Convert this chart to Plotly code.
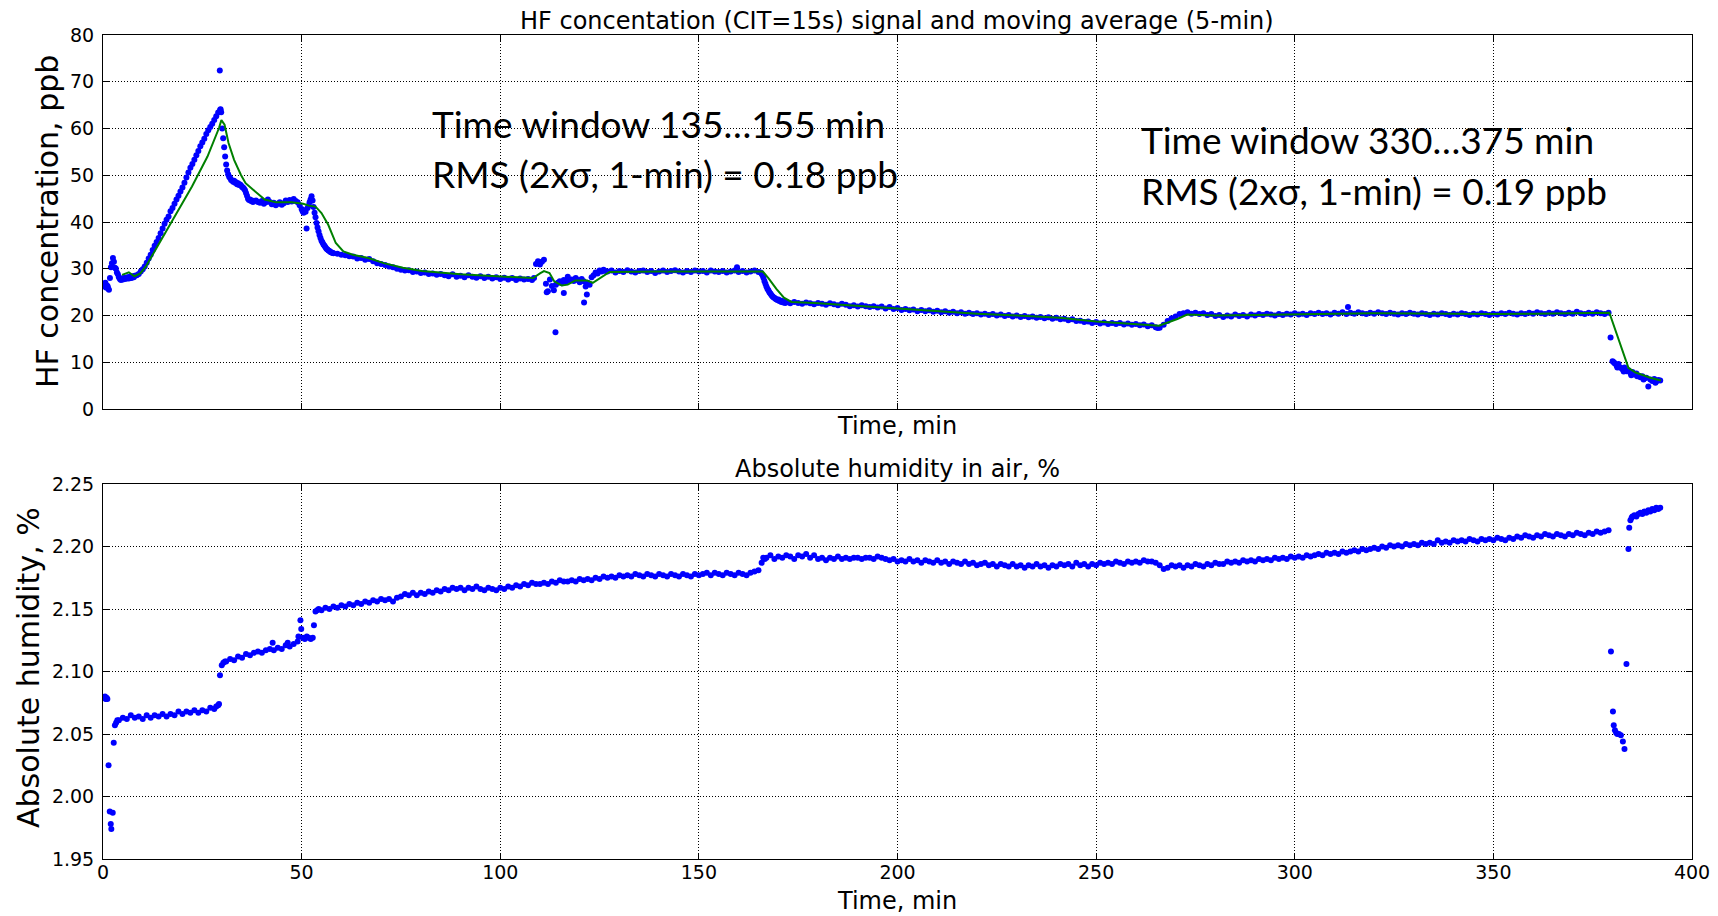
import plotly.graph_objects as go

# ---------------- data ----------------
# HF concentration signal (ppb); each segment: start time (min), sampling step (min), values
hf_seg1 = [26.8, 26.3, 26.5, 26.0, 26.4, 25.8, 25.5, 28.0, 30.3, 31.2, 32.3, 31.5, 30.2, 30.0, 29.2, 28.8,
           28.2, 27.8, 27.6, 27.9, 27.7, 28.0, 27.8, 28.1, 27.9, 28.2, 27.9, 28.3, 28.0, 28.1, 28.4, 28.2, 28.5]
hf_seg2 = [28.6, 28.9, 29.4, 29.9, 30.5, 31.3, 32.2, 33.0, 34.0, 34.9, 35.7, 36.6, 37.6, 38.6, 39.6, 40.5,
           41.2, 42.3, 43.0, 43.9, 44.8, 45.6, 46.5, 47.4, 48.4, 49.5, 50.6, 51.6, 52.4, 53.3, 54.3, 55.2,
           56.2, 57.0, 57.8, 58.8, 59.6, 60.3, 61.0, 61.8, 62.6, 63.4, 64.0]
hf_seg3 = [63.5, 60.0, 57.9, 56.0, 54.0, 52.3, 51.0, 50.2, 49.7, 49.4, 49.0, 48.9, 48.6, 48.8, 48.4, 48.5,
           48.1, 48.3, 47.9, 48.0, 47.8, 47.5, 47.4, 47.1, 46.8, 46.2, 45.6, 45.0, 44.7, 44.8, 44.5, 44.6,
           44.3, 44.5]
hf_seg4 = [44.6, 44.3, 44.1, 44.5, 43.9, 44.2, 44.8, 44.3, 43.8, 44.1, 43.6, 43.9, 44.2, 43.7, 44.0, 44.6,
           44.3, 44.7, 44.4, 44.9, 44.5, 44.2, 43.6, 42.8]
hf_seg5 = [42.3, 42.0, 42.5, 42.2, 38.6, 43.0, 43.5, 44.2, 44.8, 45.5, 44.6, 43.2, 42.0, 41.0, 39.8, 38.8,
           38.0, 37.2, 36.6, 36.0, 35.6, 35.2, 34.9, 34.6, 34.3, 34.1, 33.9, 33.8, 33.6, 33.5, 33.4, 33.3]
hf_seg6 = [33.2, 33.0, 32.9, 32.7, 32.6, 32.2, 32.3, 31.9, 32.1, 31.6, 31.2, 31.0, 30.8, 30.5, 30.3, 30.0,
           29.8, 29.6, 29.7, 29.3, 29.4, 29.1, 29.2, 28.9, 29.0, 28.7, 28.9, 28.6, 28.4, 28.8, 28.3, 28.5,
           28.2, 28.6, 28.3, 28.1, 28.4, 28.0, 28.3, 27.9, 28.2, 27.8, 28.1, 27.7, 28.0, 27.6, 27.9, 27.7,
           27.8, 27.6]
hf_seg7 = [28.0, 31.0, 31.6, 30.9, 31.5, 31.9, 26.8, 25.2, 27.7, 26.3, 25.4, 26.6, 27.0, 27.3, 26.9, 27.6,
           27.2, 28.3, 27.5, 27.7, 27.4, 28.0, 27.6, 27.1, 27.8, 27.3, 26.2, 27.0, 26.6, 28.2, 28.6, 29.2,
           29.0, 29.6, 29.4, 29.8, 29.5]
hf_seg8 = [29.4, 29.6, 29.2, 29.5, 29.3, 29.7, 29.4, 29.2, 29.5, 29.6, 29.3, 29.5, 29.1, 29.4, 29.6, 29.3,
           29.5, 29.7, 29.4, 29.2, 29.5, 29.3, 29.6, 29.4, 29.5, 29.2, 29.6, 29.4, 29.3, 29.5, 29.2, 29.4,
           29.6, 29.3, 29.5, 29.2, 29.4, 29.6, 29.3]
hf_seg9 = [29.2, 29.0, 28.6, 28.1, 27.4, 26.8, 26.2, 25.7, 25.4, 25.0, 24.7, 24.4, 24.1, 23.9, 23.8, 23.6,
           23.5, 23.3, 23.4, 23.1, 23.2, 22.9, 23.1, 22.8, 22.9, 22.7, 22.9]
hf_seg10 = [22.6, 22.9, 22.7, 22.5, 22.8, 22.6, 22.4, 22.7, 22.5, 22.3, 22.6, 22.4, 22.2, 22.5, 22.3, 22.0,
            22.2, 21.9, 22.2, 22.0, 21.8, 22.0, 21.7, 21.9, 21.5, 21.8, 21.4, 21.6]
hf_seg11 = [21.2, 21.4, 21.1, 21.3, 20.9, 21.2, 20.9, 21.1, 20.8, 21.0, 20.7, 20.9, 20.6, 20.8, 20.5, 20.7,
            20.4, 20.6, 20.3, 20.5, 20.2, 20.4, 20.1, 20.3, 20.0, 20.2, 19.9, 20.1, 19.8, 20.0, 19.7, 19.9,
            19.6, 19.8, 19.5, 19.7, 19.4, 19.6, 19.3, 19.5, 19.2, 19.3, 19.0, 19.2, 18.8, 18.9, 18.6, 18.7,
            18.4, 18.6, 18.3, 18.5, 18.2, 18.4, 18.2, 18.4, 18.1, 18.3, 18.0, 18.2, 17.9, 18.1, 17.7, 17.9,
            17.5]
hf_seg12 = [17.4, 18.0, 18.8, 19.4, 19.8, 20.3, 20.5, 20.7, 20.4, 20.6, 20.3, 20.5, 20.1, 20.3, 19.9, 20.1,
            19.7, 20.0, 19.8, 20.2, 19.9, 20.1, 19.8, 20.2, 20.0, 20.3, 20.1, 20.4, 20.2, 20.0, 20.3, 20.1,
            20.4, 20.2, 20.5]
hf_seg13 = [20.2, 20.4, 20.1, 20.5, 20.3, 20.6, 20.3, 20.5, 20.2, 20.6, 20.4, 20.7, 20.3, 20.6, 20.4, 20.7,
            20.5, 20.3, 20.6, 20.4, 20.7, 20.5, 20.3, 20.6, 20.4, 20.2, 20.5, 20.3, 20.6, 20.4, 20.2, 20.5,
            20.3, 20.1, 20.4, 20.2, 20.5, 20.3, 20.1, 20.4]
hf_seg14 = [20.2, 20.5, 20.3, 20.1, 20.4, 20.2, 20.5, 20.3, 20.1, 20.4, 20.2, 20.5, 20.3, 20.6, 20.4, 20.2,
            20.5, 20.3, 20.6, 20.4, 20.7, 20.5, 20.3, 20.6, 20.4, 20.7, 20.5, 20.3, 20.6, 20.4, 20.8, 20.5,
            20.3, 20.6, 20.4, 20.7, 20.5, 20.3, 20.6]
hf_seg15 = [15.3, 10.2, 9.8, 9.3, 9.6, 8.8, 8.5, 8.9, 8.1, 8.3, 7.7, 7.9, 7.4, 7.6, 7.1, 6.8, 7.0, 6.5,
            6.7, 4.8, 6.3, 6.0, 6.4, 5.9, 6.2, 6.1]
hf_segments = [(0.0, 0.25, hf_seg1), (8.5, 0.5, hf_seg2), (29.75, 0.25, hf_seg3), (38.5, 0.5, hf_seg4),
               (50.25, 0.25, hf_seg5), (59.0, 1.0, hf_seg6), (108.5, 0.5, hf_seg7), (127.0, 1.0, hf_seg8),
               (165.5, 0.25, hf_seg9), (173.0, 1.0, hf_seg10), (201.0, 1.0, hf_seg11), (266.0, 1.0, hf_seg12),
               (301.0, 1.0, hf_seg13), (341.0, 1.0, hf_seg14), (379.5, 0.5, hf_seg15)]
hf_extra_t = [29.4, 29.6, 111.7, 113.9, 116.0, 121.1, 121.8, 159.6, 313.4, 380.3, 381.2, 382.8, 384.7,
              386.2, 387.8, 390.8, 0.6, 1.2, 265.5]
hf_extra_v = [72.4, 64.1, 25.0, 16.4, 24.8, 22.8, 24.5, 30.3, 21.8, 10.0, 8.9, 8.0, 7.2, 7.0, 6.3, 5.6,
              27.0, 26.2, 17.3]

# 5-min moving average (ppb)
ma_t = [4.8, 6.5, 7.9, 9.4, 10.8, 14.7, 18.5, 22.4, 26.3, 29.2, 29.8, 30.6, 31.6, 33.0, 34.7, 35.9, 37.8,
        40.7, 43.6, 47.5, 50.4, 51.8, 53.5, 55.0, 56.7, 58.6, 60.5, 62.9, 66.8, 70.7, 75.5, 80.3, 90.0,
        99.6, 108.3, 110.0, 111.0, 112.4, 113.6, 115.5, 117.0, 118.9, 121.8, 123.3, 125.1, 127.5, 140.0,
        150.0, 160.0, 166.1, 167.5, 169.5, 171.4, 173.3, 179.1, 190.0, 200.0, 210.0, 220.0, 230.0, 240.8,
        250.0, 260.0, 265.8, 267.7, 270.6, 272.9, 277.4, 280.0, 290.0, 300.0, 310.0, 320.0, 330.0, 340.0,
        350.0, 360.0, 370.0, 379.2, 384.0, 385.8, 389.5, 392.2]
ma_v = [28.7, 29.25, 28.4, 29.0, 30.5, 36.2, 41.9, 47.6, 54.0, 60.1, 61.8, 60.8, 56.9, 53.3, 50.1, 48.3, 46.9,
        44.8, 44.2, 44.2, 43.9, 43.5, 43.3, 41.9, 39.4, 35.5, 33.7, 33.0, 32.3, 31.2, 30.2, 29.5, 28.8,
        28.4, 28.0, 29.0, 29.5, 29.1, 27.3, 26.4, 26.6, 27.5, 27.5, 27.0, 28.0, 29.3, 29.4,
        29.4, 29.4, 29.4, 28.0, 25.7, 23.8, 22.9, 22.7, 22.1, 21.4, 20.9, 20.4, 20.0, 19.5,
        18.7, 18.2, 17.8, 18.4, 19.3, 20.2, 20.1, 20.0, 20.1, 20.3, 20.4, 20.5, 20.4, 20.3,
        20.3, 20.4, 20.5, 20.6, 8.8, 7.8, 6.7, 6.1]

# Absolute humidity (%)
h_pts1_t = [0.3, 0.5, 0.7, 0.9, 1.1, 1.4, 1.7, 1.95, 2.1, 2.45, 2.7, 3.0, 3.3, 3.6]
h_pts1_v = [2.079, 2.080, 2.078, 2.079, 2.078, 2.025, 1.988, 1.978, 1.974, 1.987, 2.043, 2.057, 2.059, 2.061]
h_seg1 = [2.061, 2.063, 2.062, 2.065, 2.063, 2.064, 2.062, 2.065, 2.063, 2.065, 2.064, 2.066, 2.064, 2.066,
          2.065, 2.068, 2.066, 2.068, 2.067, 2.069, 2.067, 2.069, 2.068, 2.071, 2.070, 2.073]
h_pts2_t = [28.5, 29.2, 29.45, 29.9, 30.3, 30.7]
h_pts2_v = [2.072, 2.074, 2.097, 2.105, 2.107, 2.108]
h_seg2 = [2.108, 2.110, 2.109, 2.112, 2.111, 2.114, 2.113, 2.115, 2.116, 2.115, 2.117, 2.118, 2.117, 2.119,
          2.118, 2.121, 2.120, 2.122, 2.124]
h_pts3_t = [42.7, 46.5, 49.2, 49.7, 49.9, 50.3, 50.8, 51.3, 51.8, 52.3, 52.8, 53.1, 53.5, 53.9, 54.3]
h_pts3_v = [2.123, 2.123, 2.128, 2.141, 2.134, 2.127, 2.126, 2.128, 2.127, 2.126, 2.127, 2.137, 2.148,
            2.149, 2.150]
h_seg3 = [2.149, 2.151, 2.150, 2.152, 2.151, 2.153, 2.152, 2.154, 2.153, 2.155, 2.154, 2.156, 2.155, 2.157,
          2.156, 2.158, 2.157, 2.158, 2.156, 2.159, 2.160, 2.162, 2.161, 2.163, 2.161, 2.163, 2.162, 2.164,
          2.163, 2.165, 2.164, 2.166, 2.165, 2.167, 2.166, 2.167, 2.165, 2.167, 2.166, 2.168, 2.166, 2.165,
          2.167, 2.166, 2.165, 2.167, 2.166, 2.168, 2.167, 2.169]
h_seg4 = [2.168, 2.170, 2.169, 2.171, 2.170, 2.170, 2.171, 2.170, 2.172, 2.171, 2.173, 2.172, 2.172, 2.173,
          2.172, 2.174, 2.173, 2.174, 2.173, 2.175, 2.174, 2.176, 2.175, 2.176, 2.175, 2.177, 2.176, 2.177,
          2.176, 2.178, 2.177, 2.176, 2.178, 2.177, 2.176, 2.178, 2.177, 2.176, 2.178, 2.177, 2.176, 2.178,
          2.177, 2.176, 2.178, 2.177, 2.178, 2.179, 2.177, 2.179, 2.178, 2.177, 2.179, 2.178, 2.177, 2.179,
          2.178, 2.177, 2.179, 2.180, 2.181]
h_pts4_t = [165.8, 166.2, 166.6]
h_pts4_v = [2.187, 2.191, 2.190]
h_seg5 = [2.191, 2.193, 2.190, 2.192, 2.191, 2.193, 2.192, 2.190, 2.193, 2.192, 2.194, 2.191, 2.193, 2.190,
          2.191, 2.189, 2.191, 2.190, 2.192, 2.190, 2.191, 2.190, 2.191, 2.191, 2.190, 2.191, 2.191, 2.190,
          2.192, 2.191, 2.190, 2.189, 2.190, 2.188]
h_seg6 = [2.189, 2.188, 2.190, 2.188, 2.189, 2.187, 2.189, 2.188, 2.187, 2.189, 2.187, 2.188, 2.186, 2.188,
          2.187, 2.186, 2.188, 2.186, 2.187, 2.185, 2.186, 2.187, 2.185, 2.186, 2.184, 2.186, 2.185, 2.184,
          2.186, 2.184, 2.185, 2.183, 2.185, 2.184, 2.186, 2.184, 2.185, 2.183, 2.185, 2.184, 2.186, 2.185,
          2.186, 2.184, 2.187, 2.185, 2.186, 2.184, 2.186, 2.185]
h_seg7 = [2.187, 2.186, 2.187, 2.186, 2.188, 2.187, 2.186, 2.188, 2.187, 2.188, 2.187, 2.189, 2.188, 2.188,
          2.187, 2.185, 2.182, 2.183, 2.185, 2.184, 2.185, 2.183, 2.185, 2.184, 2.186, 2.185, 2.184, 2.186,
          2.185, 2.187, 2.186, 2.186, 2.188, 2.187, 2.188, 2.187, 2.189, 2.188, 2.189, 2.188, 2.190, 2.189,
          2.190, 2.189, 2.191, 2.190, 2.191, 2.190, 2.192, 2.191]
h_seg8 = [2.192, 2.191, 2.193, 2.192, 2.193, 2.194, 2.193, 2.195, 2.194, 2.195, 2.194, 2.196, 2.195, 2.196,
          2.197, 2.196, 2.198, 2.197, 2.198, 2.199, 2.198, 2.200, 2.199, 2.201, 2.200, 2.201, 2.200, 2.202,
          2.201, 2.202, 2.201, 2.203, 2.202, 2.203, 2.202, 2.205, 2.203, 2.204, 2.203, 2.205, 2.204, 2.205,
          2.204, 2.206, 2.205, 2.204, 2.206, 2.205, 2.206, 2.205]
h_seg9 = [2.207, 2.206, 2.205, 2.207, 2.206, 2.208, 2.207, 2.209, 2.208, 2.207, 2.209, 2.208, 2.210, 2.209,
          2.208, 2.210, 2.209, 2.208, 2.210, 2.209, 2.211, 2.210, 2.209, 2.211, 2.210, 2.212, 2.211, 2.212,
          2.213]
h_pts5_t = [379.6, 380.1, 380.3, 380.6, 380.9, 381.2, 381.6, 382.1, 382.6, 383.0, 383.5, 384.0, 384.2,
            384.5, 384.8]
h_pts5_v = [2.116, 2.068, 2.057, 2.053, 2.051, 2.050, 2.050, 2.049, 2.044, 2.038, 2.106, 2.198, 2.215,
            2.221, 2.223]
h_seg10 = [2.224, 2.225, 2.224, 2.226, 2.227, 2.226, 2.228, 2.227, 2.229, 2.228, 2.230, 2.229, 2.231,
           2.230, 2.231]
h_segments = [(4.0, 1.0, h_seg1), (31.0, 1.0, h_seg2), (55.0, 1.0, h_seg3), (105.0, 1.0, h_seg4),
              (167.0, 1.0, h_seg5), (201.0, 1.0, h_seg6), (251.0, 1.0, h_seg7), (301.0, 1.0, h_seg8),
              (351.0, 1.0, h_seg9), (385.0, 0.5, h_seg10)]
h_points = [(h_pts1_t, h_pts1_v), (h_pts2_t, h_pts2_v), (h_pts3_t, h_pts3_v), (h_pts4_t, h_pts4_v),
            (h_pts5_t, h_pts5_v)]

# ---------------- assemble ----------------
def expand(segments, points):
    pairs = []
    for t0, step, vals in segments:
        pairs += [(t0 + i * step, v) for i, v in enumerate(vals)]
    for ts, vs in points:
        pairs += list(zip(ts, vs))
    pairs.sort()
    return [p[0] for p in pairs], [p[1] for p in pairs]

hf_t, hf_v = expand(hf_segments, [(hf_extra_t, hf_extra_v)])
h_t, h_v = expand(h_segments, h_points)

# the page body adds an 8px margin around the figure; lay out in window pixels
OFF = 8
W, H = 1718 - OFF, 916 - OFF
def px(xp):
    return (xp - OFF) / W
def py(yp):
    return 1 - (yp - OFF) / H

BLUE = '#0000ff'
GREEN = '#008000'

fig = go.Figure()
fig.add_trace(go.Scatter(x=hf_t, y=hf_v, mode='markers', marker=dict(color=BLUE, size=6, line=dict(width=0)),
                         xaxis='x', yaxis='y', hoverinfo='skip'))
fig.add_trace(go.Scatter(x=ma_t, y=ma_v, mode='lines', line=dict(color=GREEN, width=2),
                         xaxis='x', yaxis='y', hoverinfo='skip'))
fig.add_trace(go.Scatter(x=h_t, y=h_v, mode='markers', marker=dict(color=BLUE, size=6, line=dict(width=0)),
                         xaxis='x2', yaxis='y2', hoverinfo='skip'))

tickfont = dict(family='DejaVu Sans', size=19, color='black')
axis_common = dict(showline=True, linecolor='black', linewidth=1, mirror='ticks', ticks='inside', ticklen=6,
                   tickcolor='black', tickwidth=1, showgrid=True, gridcolor='black', gridwidth=1,
                   griddash='1px,2px', zeroline=False, tickfont=tickfont, automargin=False)
xdom = [px(103), px(1692)]

fig.update_layout(
    template='none',
    width=W, height=H, margin=dict(l=0, r=0, t=0, b=0, pad=0, autoexpand=False),
    paper_bgcolor='white', plot_bgcolor='white', showlegend=False,
    font=dict(family='DejaVu Sans', color='black'),
    xaxis=dict(domain=xdom, anchor='y', range=[0, 400], tick0=0, dtick=50, showticklabels=False, **axis_common),
    yaxis=dict(domain=[py(409), py(35)], anchor='x', range=[0, 80], tick0=0, dtick=10,
               ticklabelstandoff=4, **axis_common),
    xaxis2=dict(domain=xdom, anchor='y2', range=[0, 400], tick0=0, dtick=50,
                ticklabelstandoff=-4, **axis_common),
    yaxis2=dict(domain=[py(859), py(484)], anchor='x2', range=[1.95, 2.25], tick0=1.95, dtick=0.05,
                tickformat='.2f', ticklabelstandoff=4, **axis_common),
)

def label(text, xpix, ypix, size, family='DejaVu Sans', angle=0, xanchor='center'):
    fig.add_annotation(text=text, x=px(xpix), y=py(ypix), xref='paper', yref='paper', showarrow=False,
                       xanchor=xanchor, yanchor='middle', textangle=angle,
                       font=dict(family=family, size=size, color='black'))

label('HF concentation (CIT=15s) signal and moving average (5-min)', 897, 21, 24)
label('Absolute humidity in air, %', 897, 469, 24)
label('Time, min', 897, 426, 24)
label('Time, min', 897, 901, 24)
label('HF concentration, ppb', 48, 222, 30, angle=-90)
label('Absolute humidity, %', 28, 668, 30, angle=-90)

ann_font = 'Lato'
label('Time window 135…155 min', 430, 123, 37, family=ann_font, xanchor='left')
label('RMS (2xσ, 1-min) = 0.18 ppb', 430, 173, 37, family=ann_font, xanchor='left')
label('Time window 330…375 min', 1139, 139, 37, family=ann_font, xanchor='left')
label('RMS (2xσ, 1-min) = 0.19 ppb', 1139, 190, 37, family=ann_font, xanchor='left')

fig.write_html('out.html', config={'displayModeBar': False})
